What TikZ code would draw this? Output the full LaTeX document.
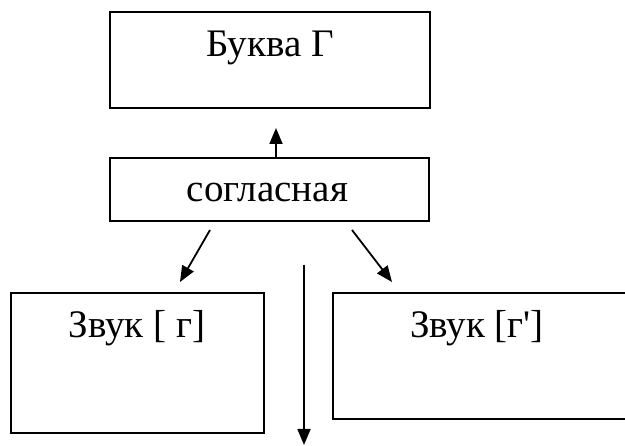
\documentclass[tikz,border=0pt]{standalone}
\usepackage{fontspec}
\setmainfont{Liberation Serif}
\font\rawapos="Liberation Serif" at 39pt
\usetikzlibrary{arrows.meta}
\begin{document}
\begin{tikzpicture}[x=1pt,y=-1pt,
  box/.style={draw,line width=1.8pt,inner sep=0pt,outer sep=0pt},
  lbl/.style={inner sep=0pt,anchor=base,font=\fontsize{39}{44}\selectfont},
  arr/.style={line width=1.8pt,-{Triangle[length=16pt,width=13pt]}}]
\useasboundingbox (0,0) rectangle (625,446);
\clip (0,0) rectangle (625,446);
% boxes
\node[box,minimum width=320pt,minimum height=96pt] (bukva) at (270,60) {};
\node[box,minimum width=319pt,minimum height=63pt] (sogl) at (269.5,189.5) {};
\node[box,minimum width=253pt,minimum height=140pt] (zl) at (137.5,363) {};
\node[box,minimum width=320pt,minimum height=126pt] (zr) at (493,356) {};
% texts
\node[lbl] (tbukva) at (270,57) {Буква Г};
\node[lbl] (tsogl) at (267.5,202) {согласная};
\node[lbl] (tzl) at (137,338) {Звук [ г]};
\node[lbl] (tzr) at (477,338) {Звук [г{\rawapos '}]};
% free ends
\coordinate (up) at (276,128);
\coordinate (ls) at (210,230);
\coordinate (le) at (180,282);
\coordinate (rs) at (352,230);
\coordinate (re) at (392,282);
\coordinate (vs) at (304,265);
\coordinate (ve) at (304,445);
\draw[arr] (sogl.north -| up) -- (up);
\draw[arr] (ls) -- (le);
\draw[arr] (rs) -- (re);
\draw[arr] (vs) -- (ve);
\end{tikzpicture}
\end{document}
